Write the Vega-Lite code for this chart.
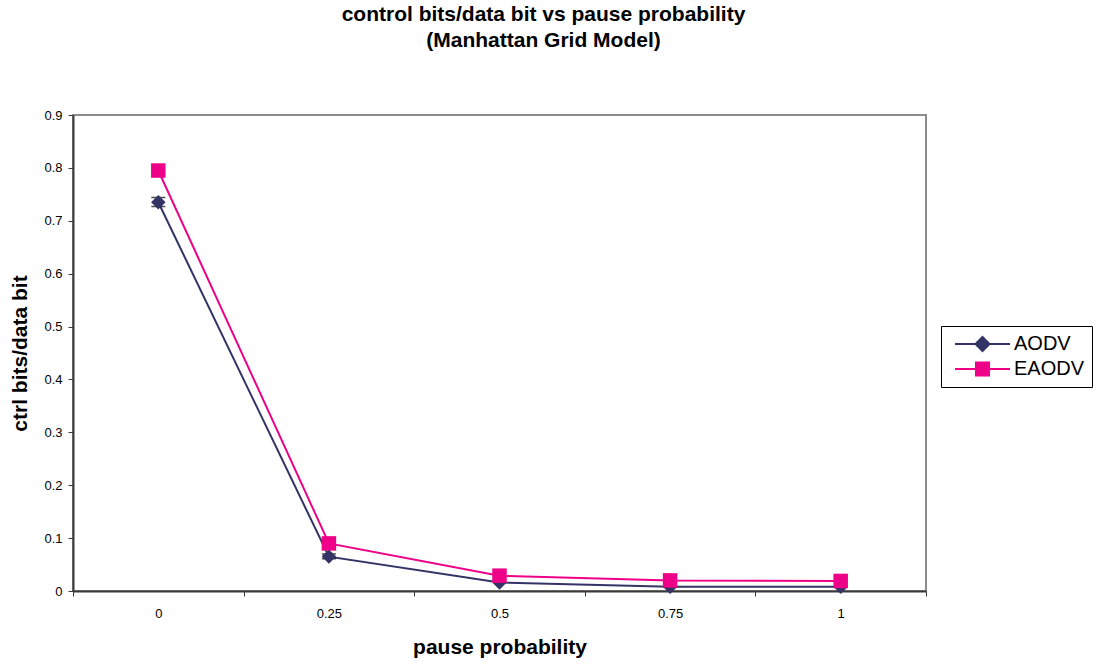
{
  "$schema": "https://vega.github.io/schema/vega-lite/v6.json",
  "width": 853,
  "height": 476,
  "autosize": {"type": "none"},
  "padding": {"left": 73, "top": 115, "right": 173, "bottom": 73},
  "background": "white",
  "config": {
    "font": "Liberation Sans",
    "view": {"stroke": "#8c8c8c", "strokeWidth": 2},
    "axis": {
      "grid": false,
      "domainColor": "#3a3a3a",
      "domainWidth": 2,
      "tickColor": "#3a3a3a",
      "tickWidth": 1,
      "tickSize": 5,
      "labelColor": "black",
      "labelFontSize": 13,
      "titleColor": "black",
      "titleFontSize": 21,
      "titleFontWeight": "bold"
    }
  },
  "title": {
    "text": ["control bits/data bit vs pause probability", "(Manhattan Grid Model)"],
    "fontSize": 21,
    "fontWeight": "bold",
    "color": "black",
    "anchor": "middle",
    "frame": "group",
    "dx": 44,
    "offset": 58,
    "lineHeight": 26
  },
  "data": {
    "values": [
      {"p": "0", "series": "AODV", "value": 0.735, "lo": 0.727, "hi": 0.744},
      {"p": "0.25", "series": "AODV", "value": 0.065, "lo": 0.061, "hi": 0.07},
      {"p": "0.5", "series": "AODV", "value": 0.016},
      {"p": "0.75", "series": "AODV", "value": 0.008},
      {"p": "1", "series": "AODV", "value": 0.008},
      {"p": "0", "series": "EAODV", "value": 0.795},
      {"p": "0.25", "series": "EAODV", "value": 0.09},
      {"p": "0.5", "series": "EAODV", "value": 0.029},
      {"p": "0.75", "series": "EAODV", "value": 0.02},
      {"p": "1", "series": "EAODV", "value": 0.019}
    ]
  },
  "encoding": {
    "x": {
      "field": "p",
      "type": "ordinal",
      "sort": ["0", "0.25", "0.5", "0.75", "1"],
      "scale": {"paddingInner": 0, "paddingOuter": 0},
      "axis": {
        "title": "pause probability",
        "labelAngle": 0,
        "labelPadding": 11,
        "tickBand": "extent",
        "titleY": 56,
        "titleBaseline": "middle"
      }
    }
  },
  "layer": [
    {
      "mark": {"type": "line", "strokeWidth": 2},
      "encoding": {
        "y": {
          "field": "value",
          "type": "quantitative",
          "scale": {"domain": [0, 0.9], "nice": false},
          "axis": {
            "title": "ctrl bits/data bit",
            "values": [0, 0.1, 0.2, 0.3, 0.4, 0.5, 0.6, 0.7, 0.8, 0.9],
            "format": ".1~f",
            "labelPadding": 6,
            "titleX": -53,
            "titleY": 238,
            "titleBaseline": "middle"
          }
        },
        "color": {
          "field": "series",
          "type": "nominal",
          "scale": {"domain": ["AODV", "EAODV"], "range": ["#333366", "#EE0088"]},
          "legend": null
        }
      }
    },
    {
      "transform": [{"filter": "isValid(datum.lo)"}],
      "mark": {"type": "rule", "color": "black", "strokeWidth": 1},
      "encoding": {
        "y": {"field": "lo", "type": "quantitative"},
        "y2": {"field": "hi"}
      }
    },
    {
      "transform": [{"filter": "isValid(datum.lo)"}],
      "mark": {"type": "tick", "color": "black", "size": 14, "thickness": 1.5},
      "encoding": {"y": {"field": "lo", "type": "quantitative"}}
    },
    {
      "transform": [{"filter": "isValid(datum.hi)"}],
      "mark": {"type": "tick", "color": "black", "size": 14, "thickness": 1.5},
      "encoding": {"y": {"field": "hi", "type": "quantitative"}}
    },
    {
      "mark": {"type": "point", "filled": true, "opacity": 1, "size": 210},
      "encoding": {
        "y": {"field": "value", "type": "quantitative"},
        "color": {
          "field": "series",
          "type": "nominal",
          "scale": {"domain": ["AODV", "EAODV"], "range": ["#333366", "#EE0088"]},
          "legend": null
        },
        "shape": {
          "field": "series",
          "type": "nominal",
          "scale": {"domain": ["AODV", "EAODV"], "range": ["diamond", "square"]},
          "legend": null
        }
      }
    },
    {
      "transform": [{"filter": "false"}],
      "mark": {"type": "point", "filled": true, "opacity": 1},
      "encoding": {
        "y": {"field": "value", "type": "quantitative"},
        "color": {
          "field": "series",
          "type": "nominal",
          "scale": {"domain": ["AODV", "EAODV"], "range": ["#333366", "#EE0088"]},
          "legend": {
            "title": null,
            "orient": "none",
            "legendX": 868,
            "legendY": 211,
            "strokeColor": "black",
            "fillColor": "white",
            "padding": 7,
            "rowPadding": 3,
            "symbolSize": 400,
            "symbolStrokeWidth": 2,
            "symbolOpacity": 1,
            "labelFontSize": 20,
            "labelColor": "black",
            "labelOffset": 44,
            "labelExpr": "datum.label + '\u00a0\u00a0'"
          }
        },
        "stroke": {
          "field": "series",
          "type": "nominal",
          "scale": {"domain": ["AODV", "EAODV"], "range": ["#333366", "#EE0088"]}
        },
        "shape": {
          "field": "series",
          "type": "nominal",
          "scale": {
            "domain": ["AODV", "EAODV"],
            "range": [
              "M-0.4,0H5.1M2.35,-0.7L3.05,0L2.35,0.7L1.65,0Z",
              "M-0.4,0H5.1M1.7,-0.65H3V0.65H1.7Z"
            ]
          }
        }
      }
    }
  ],
  "resolve": {
    "scale": {"color": "independent", "shape": "independent", "stroke": "independent"}
  }
}
